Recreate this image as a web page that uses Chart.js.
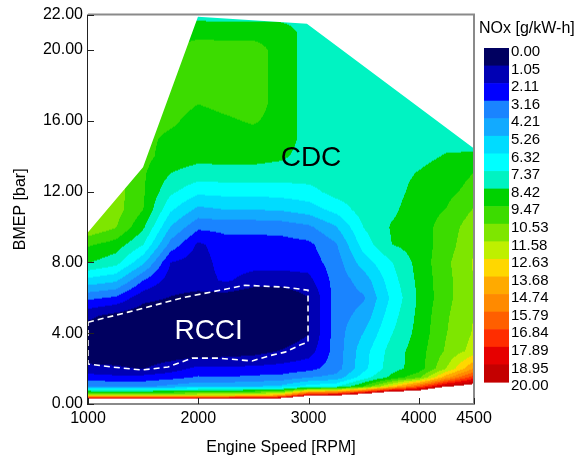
<!DOCTYPE html>
<html>
<head>
<meta charset="utf-8">
<script src="https://cdn.jsdelivr.net/npm/chart.js@4.4.1/dist/chart.umd.min.js"></script>
<style>
html,body{margin:0;padding:0;background:#ffffff;}
#wrap{width:580px;height:459px;position:relative;}
</style>
</head>
<body>
<div id="wrap"><canvas id="c"></canvas></div>
<script>
// ---------------- data ----------------
const speedRpm = [1000, 1250, 1500, 1750, 2000, 2250, 2500, 2750, 3000, 3250, 3500, 3750, 4000, 4250, 4500];
const bmepBar  = [0, 0.5, 1, 1.5, 2, 3, 4, 5, 6, 7, 8, 9, 10, 11, 12, 13, 14, 15, 16, 17, 18, 19, 20, 21, 22];

// NOx [g/kW-h]; one row per BMEP value (bottom to top), one entry per engine speed
const noxGrid = [
/* 0.0 */ [32, 32, 31, 31, 32, 32, 32, 32, 35, 35, 40, 40, 40, 40, 40],
/* 0.5 */ [12, 12, 12, 12, 12.5, 12.5, 13, 14, 19, 19.5, 22, 25, 24, 28, 28],
/* 1.0 */ [4.2, 4.0, 4.0, 4.5, 5.0, 5.0, 5.2, 5.5, 6.8, 7.2, 9.5, 13, 16.5, 19.8, 21],
/* 1.5 */ [2.7, 2.4, 2.5, 2.8, 3.3, 3.2, 3.4, 3.5, 4.2, 4.6, 6.9, 8.7, 10.3, 14.5, 17.5],
/* 2.0 */ [1.25, 1.2, 1.0, 1.6, 2.4, 2.3, 2.4, 2.5, 2.8, 3.7, 6.0, 8.0, 8.9, 11.6, 14.8],
/* 3.0 */ [0.5, 0.4, 0.3, 0.3, 0.2, 0.4, 0.6, 1.1, 1.6, 3.6, 5.9, 7.8, 9.0, 10.7, 12.0],
/* 4.0 */ [0.4, 0.3, 0.2, 0.2, 0.2, 0.2, 0.2, 0.3, 1.0, 3.7, 5.3, 7.3, 8.8, 10.5, 11.7],
/* 5.0 */ [1.3, 0.7, 0.3, 0.2, 0.2, 0.2, 0.2, 0.2, 1.0, 3.7, 4.6, 6.9, 8.7, 10.4, 11.6],
/* 6.0 */ [3.4, 3.0, 1.4, 1.0, 0.7, 0.5, 0.2, 0.3, 1.0, 3.6, 4.1, 6.5, 8.6, 10.2, 11.6],
/* 7.0 */ [6.0, 5.5, 3.2, 1.6, 1.6, 2.3, 1.6, 1.5, 1.8, 3.6, 4.7, 6.9, 8.7, 10.2, 11.6],
/* 8.0 */ [8.5, 7.8, 5.5, 2.1, 1.6, 2.6, 2.6, 2.6, 2.6, 3.7, 5.8, 7.3, 8.8, 10.3, 11.7],
/* 9.0 */ [9.6, 9.0, 7.4, 3.8, 1.9, 2.7, 2.7, 2.7, 2.9, 4.1, 6.8, 8.4, 8.9, 10.0, 11.5],
/* 10  */ [11.5, 10.6, 8.6, 5.2, 3.4, 3.5, 3.5, 3.6, 4.0, 5.2, 7.4, 8.5, 9.0, 9.9, 11.2],
/* 11  */ [12, 11.0, 9.5, 6.5, 5.0, 5.3, 5.3, 5.4, 5.8, 6.7, 7.9, 8.2, 9.0, 9.5, 10.6],
/* 12  */ [12, 11, 9.6, 7.6, 6.6, 6.7, 6.7, 6.8, 7.0, 7.8, 8.0, 8.0, 8.8, 9.2, 9.8],
/* 13  */ [12, 11, 9.6, 8.4, 7.9, 8.0, 8.0, 7.9, 7.9, 8.0, 8.0, 8.0, 8.5, 9.0, 9.5],
/* 14  */ [11, 10.5, 9.8, 9.0, 8.8, 8.8, 8.8, 8.6, 8.0, 8.0, 8.0, 8.0, 8.1, 8.5, 8.5],
/* 15  */ [10, 10, 9.8, 9.2, 9.0, 9.0, 9.0, 9.0, 8.0, 8.0, 8.0, 8.0, 8.0, 8.1, 8.2],
/* 16  */ [10, 10, 10, 9.7, 9.0, 9.3, 9.6, 9.0, 8.0, 8.0, 8.0, 8.0, 8.0, 8.0, 8.0],
/* 17  */ [10, 10, 10, 10.0, 9.5, 9.8, 10, 9.0, 8.0, 8.0, 8.0, 8.0, 8.0, 8.0, 8.0],
/* 18  */ [10, 10, 10, 10, 9.8, 10, 10, 9.0, 8.0, 8.0, 8.0, 8.0, 8.0, 8.0, 8.0],
/* 19  */ [10, 10, 10, 10, 9.9, 10, 10, 9.0, 8.0, 8.0, 8.0, 8.0, 8.0, 8.0, 8.0],
/* 20  */ [10, 10, 10, 9.5, 9.9, 10, 10, 9.0, 8.0, 8.0, 8.0, 8.0, 8.0, 8.0, 8.0],
/* 21  */ [9, 9, 9, 9, 9.2, 9.0, 9.0, 9.0, 8.0, 8.0, 8.0, 8.0, 8.0, 8.0, 8.0],
/* 22  */ [8, 8, 8, 8.5, 8.0, 8.0, 8.0, 8.0, 8.0, 8.0, 8.0, 8.0, 8.0, 8.0, 8.0]
];

// measured operating-map envelope (upper limit of tested points)
const domainSpeed = [1000, 1499, 1997, 2985, 4500, 4500, 1000];
const domainBmep  = [9.70, 13.37, 21.88, 21.49, 14.44, 0, 0];

// RCCI operating-range outline
const rcciSpeed = [1000, 1363, 1879, 2423, 2786, 2995, 2995, 2922, 2786, 2668, 2487, 2179, 1943, 1725, 1490, 1218, 1000, 1000];
const rcciBmep  = [4.62, 5.19, 6.03, 6.71, 6.60, 6.43, 3.50, 3.33, 2.93, 2.76, 2.43, 2.59, 2.59, 2.09, 1.92, 2.09, 2.26, 4.62];

// contour level labels (colour bar) and colours of the bands between them
const levelLabels = ['0.00','1.05','2.11','3.16','4.21','5.26','6.32','7.37','8.42','9.47','10.53','11.58','12.63','13.68','14.74','15.79','16.84','17.89','18.95','20.00'];
const levelColors = ['#000060','#0000b4','#0000ff','#1a84ff','#12aaff','#00dcff','#00ffff','#00f3c2','#00d200','#3cdc00','#7ee600','#bef000','#ffd700','#ffaa00','#ff8a00','#ff5f00','#ff2d00','#e60000','#c40000'];

const xTickValues = [1000, 2000, 3000, 4000, 4500];
const yTickValues = [0, 4, 8, 12, 16, 20, 22];

const regionNames = ['CDC', 'RCCI'];
const regionSpeed = [3022, 2094];
const regionBmep  = [13.93, 4.17];
const regionColor = ['#000000', '#ffffff'];

// ---------------- rendering ----------------
const FONT = "'Liberation Sans', Arial, Helvetica, sans-serif";
Chart.defaults.font.family = FONT;
Chart.defaults.color = '#000';
const levelValues = levelLabels.map(Number);

function hexRgb(h){ return [parseInt(h.slice(1,3),16), parseInt(h.slice(3,5),16), parseInt(h.slice(5,7),16)]; }
function locate(arr, v){
  let i = 0;
  if (v <= arr[0]) return [0, 0];
  if (v >= arr[arr.length-1]) return [arr.length-2, 1];
  while (i < arr.length-2 && v > arr[i+1]) i++;
  return [i, (v - arr[i]) / (arr[i+1] - arr[i])];
}

const contourPlugin = {
  id: 'contour',
  beforeDatasetsDraw(chart){
    const {ctx, chartArea: a, scales: {x, y}} = chart;
    const w = Math.round(a.right - a.left), h = Math.round(a.bottom - a.top);
    const off = document.createElement('canvas');
    off.width = w; off.height = h;
    const octx = off.getContext('2d');
    const img = octx.createImageData(w, h);
    const rgb = levelColors.map(hexRgb);
    const cols = [], rows = [];
    for (let px = 0; px < w; px++) cols.push(locate(speedRpm, x.getValueForPixel(a.left + px + 0.5)));
    for (let py = 0; py < h; py++) rows.push(locate(bmepBar, y.getValueForPixel(a.top + py + 0.5)));
    for (let py = 0; py < h; py++){
      const [j, ty] = rows[py];
      const r0 = noxGrid[j], r1 = noxGrid[j+1];
      for (let px = 0; px < w; px++){
        const [i, tx] = cols[px];
        const v = (r0[i]*(1-tx) + r0[i+1]*tx)*(1-ty) + (r1[i]*(1-tx) + r1[i+1]*tx)*ty;
        const o = (py*w + px)*4;
        if (v > levelValues[levelValues.length-1]) { img.data[o+3] = 0; continue; }
        let k = 0;
        while (k < levelColors.length-1 && v >= levelValues[k+1]) k++;
        const c = rgb[k];
        img.data[o] = c[0]; img.data[o+1] = c[1]; img.data[o+2] = c[2]; img.data[o+3] = 255;
      }
    }
    octx.putImageData(img, 0, 0);
    ctx.save();
    ctx.beginPath();
    domainSpeed.forEach((s, n) => {
      const X = x.getPixelForValue(s), Y = y.getPixelForValue(domainBmep[n]);
      if (n === 0) ctx.moveTo(X, Y); else ctx.lineTo(X, Y);
    });
    ctx.closePath();
    ctx.clip();
    ctx.drawImage(off, a.left, a.top);
    ctx.restore();
  },
  afterDatasetsDraw(chart){
    const {ctx, scales: {x, y}} = chart;
    ctx.save();
    ctx.font = '28px ' + FONT;
    ctx.textAlign = 'center';
    ctx.textBaseline = 'middle';
    regionNames.forEach((t, n) => {
      ctx.fillStyle = regionColor[n];
      ctx.fillText(t, x.getPixelForValue(regionSpeed[n]), y.getPixelForValue(regionBmep[n]) + 1);
    });
    ctx.restore();
  },
  afterDraw(chart){
    const {ctx, chartArea: a, scales: {x, y}} = chart;
    ctx.save();
    // frame
    ctx.strokeStyle = '#8a8a8a';
    ctx.lineWidth = 2;
    ctx.beginPath();
    ctx.moveTo(a.left, a.top); ctx.lineTo(a.right, a.top); ctx.lineTo(a.right, a.bottom); ctx.lineTo(a.left, a.bottom);
    ctx.stroke();
    ctx.strokeStyle = '#222';
    ctx.lineWidth = 1;
    ctx.beginPath();
    ctx.moveTo(a.left - 0.5, a.top); ctx.lineTo(a.left - 0.5, a.bottom + 1);
    ctx.stroke();
    // ticks (inward)
    ctx.strokeStyle = '#222';
    ctx.beginPath();
    yTickValues.forEach(v => { const Y = Math.round(y.getPixelForValue(v)) + 0.5; ctx.moveTo(a.left, Y); ctx.lineTo(a.left + 6, Y); });
    xTickValues.forEach(v => { const X = Math.round(x.getPixelForValue(v)) + 0.5; ctx.moveTo(X, a.bottom); ctx.lineTo(X, a.bottom - 6); });
    ctx.stroke();
    // colour bar
    const cbX = 484, cbW = 25, cbTop = 48, cbBot = 382;
    const bh = (cbBot - cbTop) / levelColors.length;
    levelColors.forEach((c, k) => {
      ctx.fillStyle = c;
      ctx.fillRect(cbX, cbTop + k*bh, cbW, bh + 0.6);
    });
    ctx.fillStyle = '#000';
    ctx.font = '15px ' + FONT;
    ctx.textAlign = 'left';
    ctx.textBaseline = 'middle';
    levelLabels.forEach((t, k) => ctx.fillText(t, cbX + 27, cbTop + k*bh + 4));
    ctx.font = '16px ' + FONT;
    ctx.fillText('NOx [g/kW-h]', 479, 29);
    ctx.restore();
  }
};

new Chart(document.getElementById('c'), {
  type: 'scatter',
  data: {
    datasets: [{
      label: 'RCCI',
      data: rcciSpeed.map((s, n) => ({x: s, y: rcciBmep[n]})),
      showLine: true,
      borderColor: '#ffffff',
      borderWidth: 1.6,
      borderDash: [6, 4],
      pointRadius: 0,
      fill: false,
      tension: 0
    }]
  },
  options: {
    responsive: true,
    maintainAspectRatio: false,
    animation: false,
    events: [],
    layout: {padding: {top: 14, right: 106, bottom: 0, left: 0}},
    plugins: {legend: {display: false}, tooltip: {enabled: false}},
    scales: {
      x: {
        type: 'linear', min: 1000, max: 4500,
        afterBuildTicks: s => { s.ticks = xTickValues.map(v => ({value: v})); },
        afterFit: s => { s.height = 55; },
        grid: {display: false, drawTicks: false},
        border: {display: false},
        ticks: {color: '#000', font: {size: 16}, padding: 5, maxRotation: 0, autoSkip: false, callback: v => String(v)},
        title: {display: true, text: 'Engine Speed [RPM]', color: '#000', font: {size: 16}, padding: {top: 0, bottom: 2}}
      },
      y: {
        type: 'linear', min: 0, max: 22,
        afterBuildTicks: s => { s.ticks = yTickValues.map(v => ({value: v})); },
        afterFit: s => { s.width = 88; },
        grid: {display: false, drawTicks: false},
        border: {display: false},
        ticks: {color: '#000', font: {size: 16}, padding: 5, autoSkip: false, callback: v => Number(v).toFixed(2)},
        title: {display: true, text: 'BMEP [bar]', color: '#000', font: {size: 16}, padding: {top: 11, bottom: 0}}
      }
    }
  },
  plugins: [contourPlugin]
});
</script>
</body>
</html>
